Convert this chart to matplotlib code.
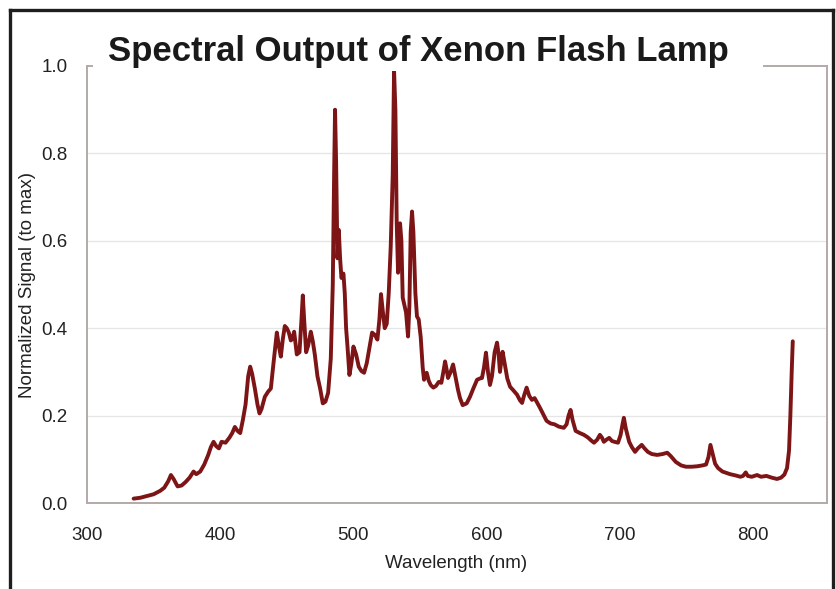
import matplotlib
matplotlib.use("Agg")
import matplotlib.pyplot as plt
from matplotlib.patches import Rectangle
from matplotlib.lines import Line2D

title = "Spectral Output of Xenon Flash Lamp"
x_label = "Wavelength (nm)"
y_label = "Normalized Signal (to max)"
x_ticks = [300, 400, 500, 600, 700, 800]
y_ticks = [0.0, 0.2, 0.4, 0.6, 0.8, 1.0]

wavelength_nm = [
    335, 340, 345, 350, 355, 358, 361, 363, 365, 368, 371, 374, 377, 380, 382, 385,
    388, 391, 393, 395, 397, 399, 401, 404, 407, 409, 411, 413, 415, 417, 419, 421,
    422.5, 424, 426, 428, 429.5, 431, 433.5, 436, 438, 440, 442.5, 444, 445.5, 447,
    448.5, 450, 451.5, 453, 454, 455.5, 457.5, 459.5, 461, 462, 463, 464.5, 466, 468,
    469.5, 471, 473, 475, 477, 479, 481, 483, 484.5, 485.5, 486.2, 487, 488, 489, 490,
    491, 492.5, 493.5, 494.5, 495.5, 497, 498.5, 500, 502, 504, 506, 508, 510, 512,
    514, 516, 518, 519.5, 520.7, 522, 523.5, 525, 526.5, 528, 529.5, 530.5, 531.5,
    532.5, 533.5, 535, 536, 537, 538.5, 539.5, 541, 542, 543, 544, 545, 546.5, 547.7,
    549, 550.5, 552, 553, 554, 555, 556.5, 558, 560, 562, 564, 566, 567.5, 568.8, 570,
    571, 573, 574.8, 576.5, 578.5, 580, 582, 585, 587.5, 590, 592.8, 595, 596.5, 598,
    599.5, 601, 602.5, 604, 606, 607.8, 609, 610, 611, 612, 613.5, 615.5, 617.6, 620,
    622.8, 625, 626.6, 628, 630, 632, 634, 636, 637.5, 640, 643, 645, 648, 651, 654,
    657.9, 660, 661.5, 663, 664.5, 666.8, 670, 673, 676, 678.5, 680.6, 683, 685, 686.5,
    688, 690, 692, 694, 696, 698.6, 700.5, 702, 703, 704.5, 707, 709, 711.4, 713.5,
    716.4, 718.5, 721, 724, 728, 732, 735.6, 738, 742, 746, 749.6, 754, 758, 762,
    764.7, 766.5, 768, 769.5, 771.5, 773.7, 777, 782.7, 787, 790.5, 792.5, 794.5, 796,
    799, 803, 806, 810, 814, 818, 821, 823.5, 825.5, 827, 828, 829, 829.8,
]

signal = [
    0.010, 0.012, 0.016, 0.020, 0.028, 0.035, 0.050, 0.064, 0.055, 0.038, 0.040, 0.048,
    0.058, 0.072, 0.066, 0.072, 0.088, 0.110, 0.128, 0.140, 0.130, 0.125, 0.140, 0.138,
    0.150, 0.160, 0.174, 0.165, 0.160, 0.190, 0.225, 0.290, 0.312, 0.295, 0.262, 0.225,
    0.205, 0.215, 0.243, 0.255, 0.262, 0.320, 0.390, 0.360, 0.335, 0.375, 0.405, 0.400,
    0.390, 0.372, 0.375, 0.392, 0.340, 0.345, 0.420, 0.475, 0.420, 0.345, 0.360, 0.392,
    0.370, 0.340, 0.290, 0.262, 0.228, 0.232, 0.252, 0.330, 0.500, 0.750, 0.900, 0.780,
    0.560, 0.625, 0.560, 0.515, 0.525, 0.480, 0.400, 0.360, 0.293, 0.320, 0.358, 0.340,
    0.312, 0.302, 0.298, 0.320, 0.355, 0.390, 0.385, 0.374, 0.420, 0.478, 0.440, 0.400,
    0.410, 0.480, 0.587, 0.750, 0.990, 0.900, 0.640, 0.527, 0.640, 0.600, 0.470, 0.450,
    0.436, 0.381, 0.450, 0.620, 0.667, 0.620, 0.480, 0.427, 0.420, 0.380, 0.310, 0.282,
    0.290, 0.298, 0.280, 0.270, 0.264, 0.268, 0.277, 0.275, 0.300, 0.324, 0.305, 0.286,
    0.300, 0.317, 0.290, 0.259, 0.240, 0.224, 0.228, 0.243, 0.262, 0.282, 0.285, 0.286,
    0.310, 0.344, 0.300, 0.270, 0.290, 0.345, 0.367, 0.340, 0.300, 0.325, 0.346, 0.320,
    0.285, 0.266, 0.258, 0.248, 0.235, 0.229, 0.245, 0.264, 0.245, 0.236, 0.240, 0.232,
    0.218, 0.200, 0.188, 0.182, 0.180, 0.175, 0.172, 0.180, 0.200, 0.213, 0.190, 0.165,
    0.160, 0.156, 0.150, 0.143, 0.138, 0.145, 0.156, 0.150, 0.140, 0.145, 0.149, 0.142,
    0.140, 0.138, 0.155, 0.180, 0.195, 0.170, 0.140, 0.128, 0.117, 0.125, 0.133, 0.125,
    0.117, 0.112, 0.110, 0.112, 0.115, 0.108, 0.094, 0.086, 0.083, 0.083, 0.084, 0.086,
    0.088, 0.105, 0.133, 0.115, 0.090, 0.080, 0.072, 0.066, 0.063, 0.060, 0.062, 0.070,
    0.062, 0.060, 0.064, 0.060, 0.062, 0.058, 0.055, 0.058, 0.065, 0.080, 0.120, 0.200,
    0.300, 0.370,
]

W, H = 836, 589
fig = plt.figure(figsize=(W / 100, H / 100), dpi=100)
fig.patch.set_facecolor("white")

ax = fig.add_axes([87 / W, 1 - 503 / H, (827 - 87) / W, (503 - 66) / H])
ax.set_xlim(300, 855.5)
ax.set_ylim(0, 1.0)

spine_color = "#b3aaa7"
for s in ax.spines.values():
    s.set_color(spine_color)
    s.set_linewidth(1.4)

for yv in y_ticks[1:-1]:
    ax.axhline(yv, color="#e6e6e6", lw=1.0, zorder=0)

ax.plot(wavelength_nm, signal, color="#7d1517", lw=2.8, solid_joinstyle="round",
        solid_capstyle="round", zorder=3, clip_on=False)

font = "Liberation Sans"
ax.set_xticks(x_ticks)
ax.set_xticklabels([str(t) for t in x_ticks], fontsize=13.5, family=font, color="#222222")
ax.set_yticks(y_ticks)
ax.set_yticklabels([f"{t:.1f}" for t in y_ticks], fontsize=13.5, family=font, color="#222222")
ax.tick_params(axis="both", length=0)
ax.tick_params(axis="x", pad=17)
ax.tick_params(axis="y", pad=14)

fig.text(456 / W, 1 - 563 / H, x_label, ha="center", va="center", fontsize=13.5,
         family=font, color="#222222")
fig.text(28 / W, 1 - 285 / H, y_label, ha="center", va="center", rotation=90,
         fontsize=13.5, family=font, color="#222222")

# white box behind title, covering the top spine
fig.add_artist(Rectangle((93 / W, 1 - 71 / H), (763 - 93) / W, (71 - 22) / H,
                         transform=fig.transFigure, facecolor="white",
                         edgecolor="none", zorder=5))
fig.text(418 / W, 1 - 52 / H, title, ha="center", va="center", fontsize=25,
         fontweight="bold", family=font, color="#1a1a1a", zorder=6)

# black scan frame (open at bottom)
fc = "#1e1e1e"
lw = 2.4
fig.add_artist(Line2D([9.5 / W, 9.5 / W], [0, 1 - 10 / H], transform=fig.transFigure,
                      color=fc, lw=lw, zorder=7))
fig.add_artist(Line2D([9.5 / W, 833 / W], [1 - 10 / H, 1 - 10 / H], transform=fig.transFigure,
                      color=fc, lw=lw, zorder=7))
fig.add_artist(Line2D([833 / W, 833 / W], [0, 1 - 10 / H], transform=fig.transFigure,
                      color=fc, lw=lw, zorder=7))

fig.savefig("out.png", dpi=100, facecolor="white")
